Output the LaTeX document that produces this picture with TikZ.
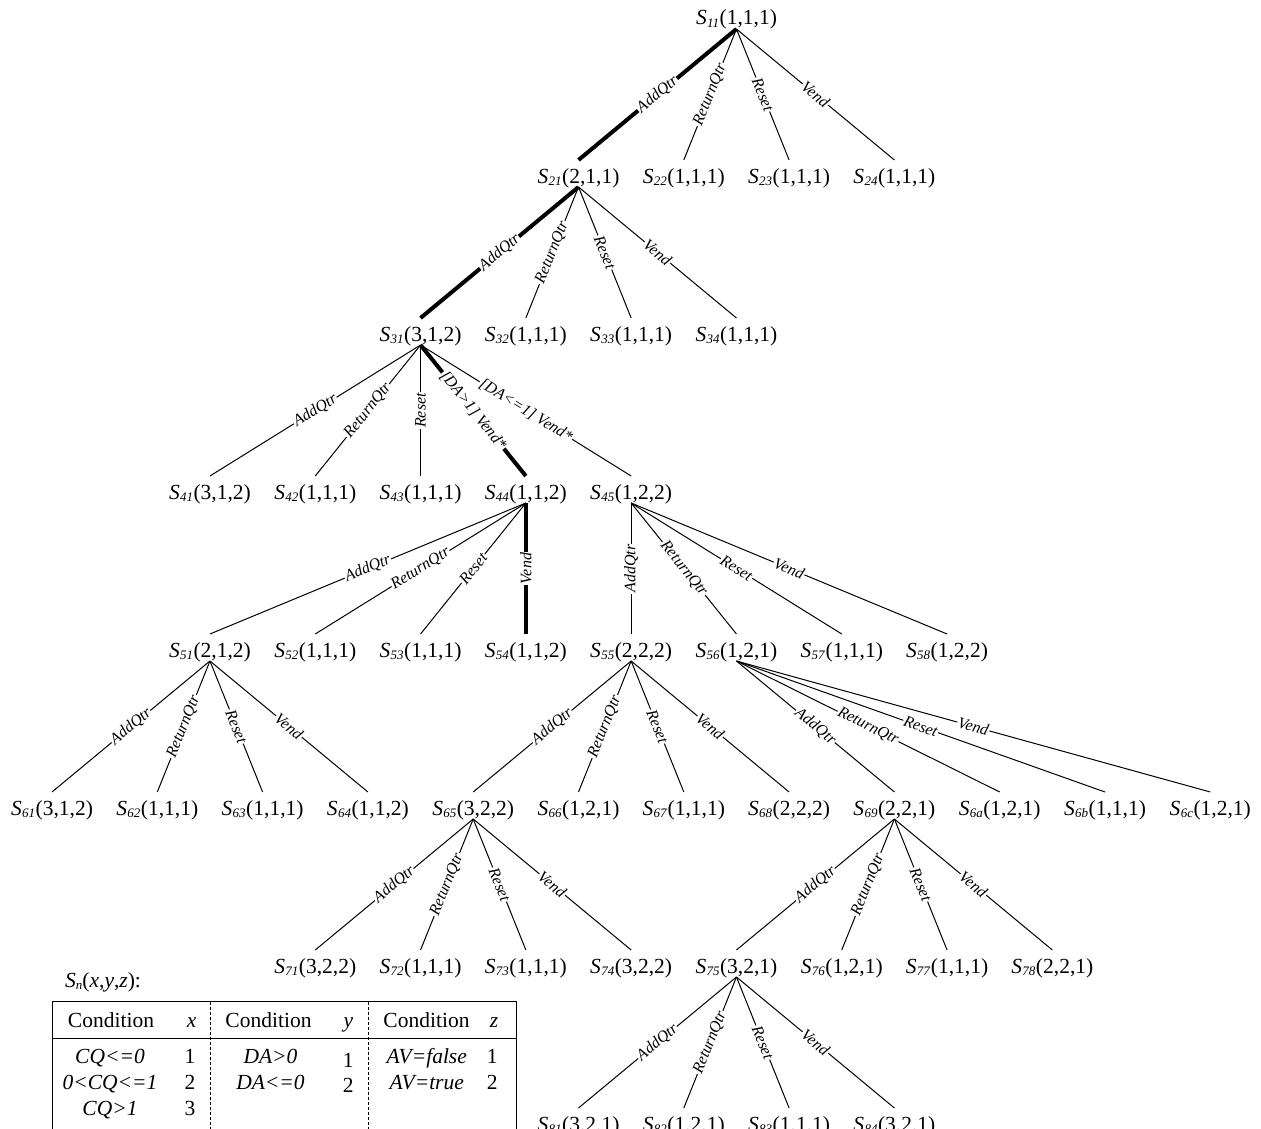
\documentclass[tikz,border=0pt]{standalone}
\usepackage{fontspec}
\setmainfont{Liberation Serif}
\usepackage{graphicx}
% state label S_{ij}(x,y,z)
\newcommand{\sv}[2]{\textit{S}\kern0.3pt\raisebox{-2.5pt}{\fontsize{13}{13}\selectfont\textit{#1}}\kern0.5pt(#2)}
\tikzset{
  st/.style={font=\fontsize{21.5}{25}\selectfont, inner sep=0pt, anchor=base},
  lbl/.style={font=\fontsize{16}{18}\selectfont\itshape, sloped, fill=white, inner sep=1pt, midway},
  edge/.style={line width=1pt},
  hot/.style={line width=4pt},
  tab/.style={font=\fontsize{21.5}{25}\selectfont, inner sep=0pt, anchor=base},
}
\begin{document}
\begin{tikzpicture}[x=1pt,y=-1pt]
\useasboundingbox (0,0) rectangle (1261,1129);
\clip (0,0) rectangle (1261,1129);
% grid: column k at x = 52 + 105.3 k, rows every 158
\def\ra{25}\def\rb{183}\def\rc{341}\def\rd{499}\def\re{657}\def\rf{815}\def\rg{973}\def\rh{1131}
% level 1
\node[st] (s11) at ({52+105.3*6.5},\ra) {\sv{11}{1,1,1}};
% level 2
\node[st] (s21) at ({52+105.3*5},\rb) {\sv{21}{2,1,1}};
\node[st] (s22) at ({52+105.3*6},\rb) {\sv{22}{1,1,1}};
\node[st] (s23) at ({52+105.3*7},\rb) {\sv{23}{1,1,1}};
\node[st] (s24) at ({52+105.3*8},\rb) {\sv{24}{1,1,1}};
% level 3
\node[st] (s31) at ({52+105.3*3.5},\rc) {\sv{31}{3,1,2}};
\node[st] (s32) at ({52+105.3*4.5},\rc) {\sv{32}{1,1,1}};
\node[st] (s33) at ({52+105.3*5.5},\rc) {\sv{33}{1,1,1}};
\node[st] (s34) at ({52+105.3*6.5},\rc) {\sv{34}{1,1,1}};
% level 4
\node[st] (s41) at ({52+105.3*1.5},\rd) {\sv{41}{3,1,2}};
\node[st] (s42) at ({52+105.3*2.5},\rd) {\sv{42}{1,1,1}};
\node[st] (s43) at ({52+105.3*3.5},\rd) {\sv{43}{1,1,1}};
\node[st] (s44) at ({52+105.3*4.5},\rd) {\sv{44}{1,1,2}};
\node[st] (s45) at ({52+105.3*5.5},\rd) {\sv{45}{1,2,2}};
% level 5
\node[st] (s51) at ({52+105.3*1.5},\re) {\sv{51}{2,1,2}};
\node[st] (s52) at ({52+105.3*2.5},\re) {\sv{52}{1,1,1}};
\node[st] (s53) at ({52+105.3*3.5},\re) {\sv{53}{1,1,1}};
\node[st] (s54) at ({52+105.3*4.5},\re) {\sv{54}{1,1,2}};
\node[st] (s55) at ({52+105.3*5.5},\re) {\sv{55}{2,2,2}};
\node[st] (s56) at ({52+105.3*6.5},\re) {\sv{56}{1,2,1}};
\node[st] (s57) at ({52+105.3*7.5},\re) {\sv{57}{1,1,1}};
\node[st] (s58) at ({52+105.3*8.5},\re) {\sv{58}{1,2,2}};
% level 6
\node[st] (s61) at ({52+105.3*0},\rf) {\sv{61}{3,1,2}};
\node[st] (s62) at ({52+105.3*1},\rf) {\sv{62}{1,1,1}};
\node[st] (s63) at ({52+105.3*2},\rf) {\sv{63}{1,1,1}};
\node[st] (s64) at ({52+105.3*3},\rf) {\sv{64}{1,1,2}};
\node[st] (s65) at ({52+105.3*4},\rf) {\sv{65}{3,2,2}};
\node[st] (s66) at ({52+105.3*5},\rf) {\sv{66}{1,2,1}};
\node[st] (s67) at ({52+105.3*6},\rf) {\sv{67}{1,1,1}};
\node[st] (s68) at ({52+105.3*7},\rf) {\sv{68}{2,2,2}};
\node[st] (s69) at ({52+105.3*8},\rf) {\sv{69}{2,2,1}};
\node[st] (s6a) at ({52+105.3*9},\rf) {\sv{6a}{1,2,1}};
\node[st] (s6b) at ({52+105.3*10},\rf) {\sv{6b}{1,1,1}};
\node[st] (s6c) at ({52+105.3*11},\rf) {\sv{6c}{1,2,1}};
% level 7
\node[st] (s71) at ({52+105.3*2.5},\rg) {\sv{71}{3,2,2}};
\node[st] (s72) at ({52+105.3*3.5},\rg) {\sv{72}{1,1,1}};
\node[st] (s73) at ({52+105.3*4.5},\rg) {\sv{73}{1,1,1}};
\node[st] (s74) at ({52+105.3*5.5},\rg) {\sv{74}{3,2,2}};
\node[st] (s75) at ({52+105.3*6.5},\rg) {\sv{75}{3,2,1}};
\node[st] (s76) at ({52+105.3*7.5},\rg) {\sv{76}{1,2,1}};
\node[st] (s77) at ({52+105.3*8.5},\rg) {\sv{77}{1,1,1}};
\node[st] (s78) at ({52+105.3*9.5},\rg) {\sv{78}{2,2,1}};
% level 8
\node[st] (s81) at ({52+105.3*5},\rh) {\sv{81}{3,2,1}};
\node[st] (s82) at ({52+105.3*6},\rh) {\sv{82}{1,2,1}};
\node[st] (s83) at ({52+105.3*7},\rh) {\sv{83}{1,1,1}};
\node[st] (s84) at ({52+105.3*8},\rh) {\sv{84}{3,2,1}};

% transitions, drawn child -> parent so the labels read upwards
\newcommand{\tr}[4][edge]{\draw[#1] ([yshift=23pt]#3.base) -- node[lbl]{#4} ([yshift=-4pt]#2.base);}
\tr[hot]{s11}{s21}{AddQtr}
\tr{s11}{s22}{ReturnQtr}
\tr{s11}{s23}{Reset}
\tr{s11}{s24}{Vend}
\tr[hot]{s21}{s31}{AddQtr}
\tr{s21}{s32}{ReturnQtr}
\tr{s21}{s33}{Reset}
\tr{s21}{s34}{Vend}
\tr{s31}{s41}{AddQtr}
\tr{s31}{s42}{ReturnQtr}
\tr{s31}{s43}{Reset}
\tr[hot]{s31}{s44}{[DA>1] Vend*}
\tr{s31}{s45}{[DA<=1] Vend*}
\tr{s44}{s51}{AddQtr}
\tr{s44}{s52}{ReturnQtr}
\tr{s44}{s53}{Reset}
\tr[hot]{s44}{s54}{Vend}
\tr{s45}{s55}{AddQtr}
\tr{s45}{s56}{ReturnQtr}
\tr{s45}{s57}{Reset}
\tr{s45}{s58}{Vend}
\tr{s51}{s61}{AddQtr}
\tr{s51}{s62}{ReturnQtr}
\tr{s51}{s63}{Reset}
\tr{s51}{s64}{Vend}
\tr{s55}{s65}{AddQtr}
\tr{s55}{s66}{ReturnQtr}
\tr{s55}{s67}{Reset}
\tr{s55}{s68}{Vend}
\tr{s56}{s69}{AddQtr}
\tr{s56}{s6a}{ReturnQtr}
\tr{s56}{s6b}{Reset}
\tr{s56}{s6c}{Vend}
\tr{s65}{s71}{AddQtr}
\tr{s65}{s72}{ReturnQtr}
\tr{s65}{s73}{Reset}
\tr{s65}{s74}{Vend}
\tr{s69}{s75}{AddQtr}
\tr{s69}{s76}{ReturnQtr}
\tr{s69}{s77}{Reset}
\tr{s69}{s78}{Vend}
\tr{s75}{s81}{AddQtr}
\tr{s75}{s82}{ReturnQtr}
\tr{s75}{s83}{Reset}
\tr{s75}{s84}{Vend}

% legend: encoding of the state vector
\node[tab, anchor=base west] (leg) at (65,987) {\textit{S}\raisebox{-2.5pt}{\fontsize{13}{13}\selectfont\textit{n}}(\textit{x},\textit{y},\textit{z}):};
\draw[line width=1pt] (52,1001.7) rectangle (516,1160);
\draw[line width=1pt] (52,1038) -- (516,1038);
\draw[line width=0.8pt, dash pattern=on 3pt off 2pt] (210.7,1001.7) -- (210.7,1160);
\draw[line width=0.8pt, dash pattern=on 3pt off 2pt] (368.3,1001.7) -- (368.3,1160);
\node[tab] (h1) at (111,1027) {Condition};
\node[tab] (h2) at (191.7,1027) {\textit{x}};
\node[tab] (h3) at (268.5,1027) {Condition};
\node[tab] (h4) at (348.3,1027) {\textit{y}};
\node[tab] (h5) at (426.5,1027) {Condition};
\node[tab] (h6) at (494,1027) {\textit{z}};
\node[tab] (a1) at (110,1063) {\textit{CQ<=0}};
\node[tab] (a2) at (110,1089.5) {\textit{0<CQ<=1}};
\node[tab] (a3) at (110,1115.5) {\textit{CQ>1}};
\node[tab] (n1) at (190,1063) {1};
\node[tab] (n2) at (190,1089.5) {2};
\node[tab] (n3) at (190,1115.5) {3};
\node[tab] (b1) at (270.5,1063) {\textit{DA>0}};
\node[tab] (b2) at (270.5,1089) {\textit{DA<=0}};
\node[tab] (m1) at (348.3,1067) {1};
\node[tab] (m2) at (348.3,1092) {2};
\node[tab] (c1) at (426.7,1063) {\textit{AV=false}};
\node[tab] (c2) at (426.7,1089.5) {\textit{AV=true}};
\node[tab] (k1) at (492.3,1063) {1};
\node[tab] (k2) at (492.3,1089.5) {2};
\end{tikzpicture}
\end{document}
